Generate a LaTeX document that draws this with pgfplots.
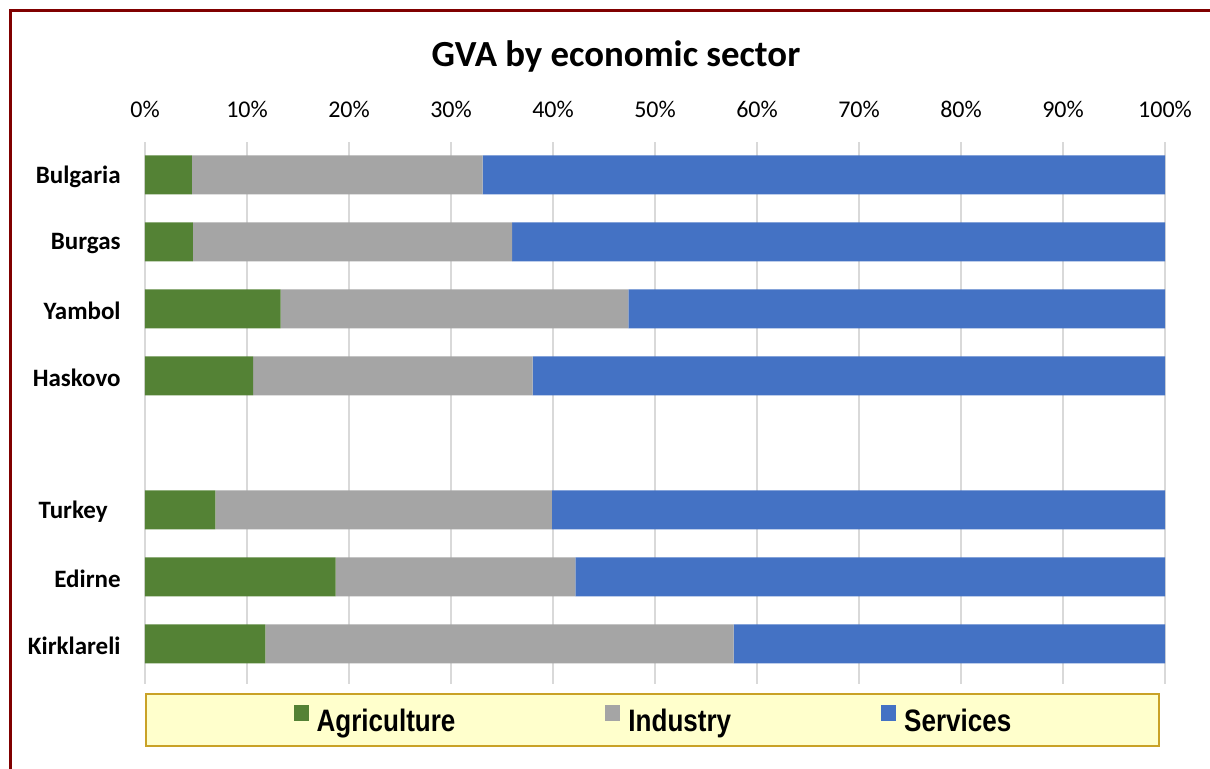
\documentclass[border=0pt]{standalone}
\usepackage{pgfplots}
\pgfplotsset{compat=1.18}
\usepackage{fontspec}
\setmainfont{Carlito}
\newfontfamily\legfont[FakeStretch=0.84]{Liberation Sans}
\definecolor{agri}{HTML}{548235}
\definecolor{ind}{HTML}{A5A5A5}
\definecolor{serv}{HTML}{4472C4}
\definecolor{gridc}{HTML}{D9D9D9}
\definecolor{framec}{HTML}{800000}
\definecolor{legfill}{HTML}{FFFFCC}
\definecolor{legdraw}{HTML}{C9A227}
\begin{document}
\begin{tikzpicture}
\begin{scope}[x=0.5pt,y=-0.5pt]
\useasboundingbox (0,0) rectangle (1210,769);
\draw[framec, line width=1.75pt] (10.5,780) -- (10.5,10.5) -- (1220,10.5);
\node[font=\fontsize{18.4}{22}\selectfont\bfseries, anchor=base] at (616,67) {GVA by economic sector};
\end{scope}
\begin{axis}[
  at={(72.5pt,-71pt)}, anchor=north west,
  scale only axis, width=510pt, height=271pt,
  xbar stacked, bar width=19.5pt,
  xmin=0, xmax=100, ymin=-0.6, ymax=7.49,
  axis line style={draw=none},
  major tick length=0pt,
  xtick={0,10,...,100},
  xticklabels={0\%,10\%,20\%,30\%,40\%,50\%,60\%,70\%,80\%,90\%,100\%},
  xticklabel pos=upper,
  xmajorgrids, grid style={gridc, line width=1pt},
  ytick={0,1,2,4,5,6,7},
  yticklabels={Kirklareli,Edirne,Turkey\kern6.5pt\relax,Haskovo,Yambol,Burgas,Bulgaria},
  every tick label/.append style={inner sep=0pt},
  xticklabel style={font=\fontsize{12}{14}\selectfont, yshift=12pt},
  yticklabel style={font=\fontsize{12.5}{15}\selectfont\bfseries, xshift=-12pt, yshift=-1pt},
  /pgf/number format/assume math mode=true,
  legend columns=3,
  legend style={
    at={(0.4975,0)}, anchor=north, yshift=-4.5pt,
    fill=legfill, draw=legdraw, line width=1pt,
    inner xsep=74pt, inner ysep=5.5pt,
    font=\legfont\fontsize{15.5}{17}\selectfont\bfseries,
    nodes={inner sep=0pt},
    /tikz/every odd column/.append style={column sep=4pt},
    /tikz/every even column/.append style={column sep=75pt},
  },
  legend image code/.code={\fill[#1] (0pt,0.5pt) rectangle (7.5pt,8.5pt);},
]
\addplot[fill=agri, draw=none] coordinates {(4.6,7) (4.7,6) (13.3,5) (10.6,4) (6.9,2) (18.7,1) (11.8,0)};
\addplot[fill=ind, draw=none] coordinates {(28.5,7) (31.3,6) (34.1,5) (27.4,4) (33.0,2) (23.5,1) (45.9,0)};
\addplot[fill=serv, draw=none] coordinates {(66.9,7) (64.0,6) (52.6,5) (62.0,4) (60.1,2) (57.8,1) (42.3,0)};
\legend{Agriculture,Industry,Services}
\end{axis}
\end{tikzpicture}
\end{document}
